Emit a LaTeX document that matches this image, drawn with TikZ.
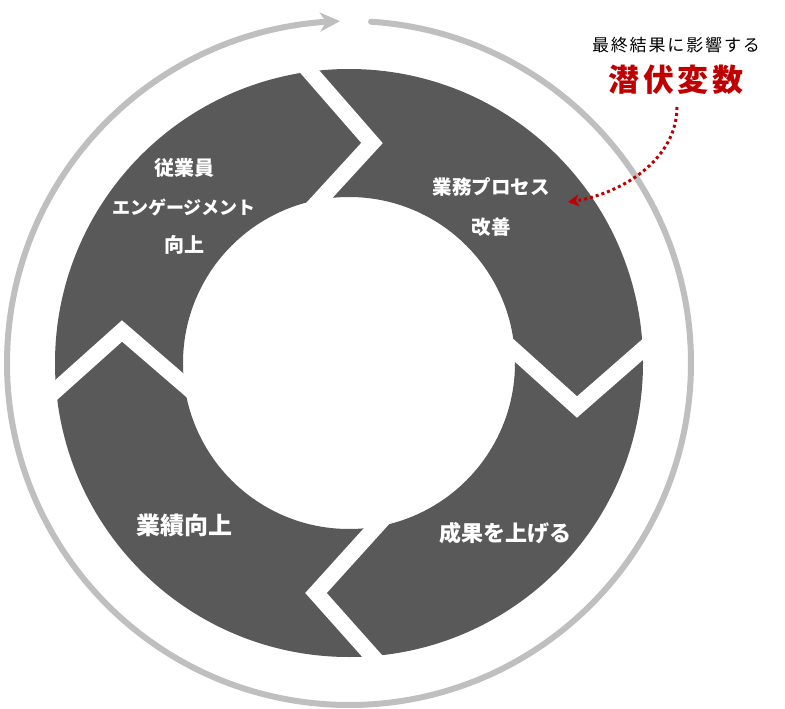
\documentclass[tikz,border=0pt]{standalone}
\usepackage{fontspec}
\setmainfont{Noto Sans CJK JP}
\usetikzlibrary{arrows.meta,bending}
\definecolor{ringcol}{HTML}{595959}
\definecolor{cyclegray}{HTML}{BFBFBF}
\definecolor{latred}{HTML}{C00000}
\tikzset{
  cycleline/.style={draw=cyclegray, line width=6pt, line cap=round},
  gapband/.style={draw=white, line width=16pt, line join=miter},
  celltext/.style={text=white, font=\bfseries, inner sep=0pt, anchor=center},
  latarrow/.style={draw=latred, line width=3pt, dash pattern=on 3pt off 3pt,
    -{Stealth[length=11pt,width=12pt,inset=3pt]}},
}
\begin{document}
\begin{tikzpicture}[x=1pt,y=-1pt]
\useasboundingbox (0,0) rectangle (785,709);
\coordinate (c) at (349,363);
% outer cycle arrow
\draw[cycleline, -{Stealth[length=20pt,width=19pt,inset=6pt]}]
  (c) ++(-86.3:342) arc[start angle=-86.3, end angle=268.5, radius=342];
% ring
\fill[ringcol, even odd rule] (c) circle[radius=294] (c) circle[radius=166];
% chevron gaps
\draw[gapband] (290,49) -- (372,143) -- (305,216);
\draw[gapband] (665,330) -- (577,407) -- (497,335);
\draw[gapband] (390,676) -- (316,593) -- (392,509);
\draw[gapband] (36,408) -- (122,331) -- (202,400);
% cell texts
\node[celltext, font=\bfseries\fontsize{20}{23}\selectfont] (emp1) at (184,168) {従業員};
\node[celltext, font=\bfseries\fontsize{18}{21}\selectfont] (emp2) at (184,207) {エンゲージメント};
\node[celltext, font=\bfseries\fontsize{20}{23}\selectfont] (emp3) at (184,245) {向上};
\node[celltext, font=\bfseries\fontsize{19.5}{22}\selectfont] (proc1) at (491,187) {業務プロセス};
\node[celltext, font=\bfseries\fontsize{19.5}{22}\selectfont] (proc2) at (491,227) {改善};
\node[celltext, font=\bfseries\fontsize{22}{25}\selectfont] (res) at (505,533) {成果を上げる};
\node[celltext, font=\bfseries\fontsize{24}{27}\selectfont] (perf) at (184,525) {業績向上};
% latent variable
\node[inner sep=0pt, font=\fontsize{17}{20}\selectfont\addfontfeature{LetterSpace=11}] (note) at (676,45) {最終結果に影響する};
\node[inner sep=0pt, text=latred, font=\bfseries\fontsize{31}{35}\selectfont\addfontfeature{LetterSpace=11}] (lat) at (676,80) {潜伏変数};
\coordinate (src) at (677,107);
\coordinate (tgt) at (568,202);
\draw[latarrow] (src) .. controls (677,160) and (620,196) .. (tgt);
\end{tikzpicture}
\end{document}
